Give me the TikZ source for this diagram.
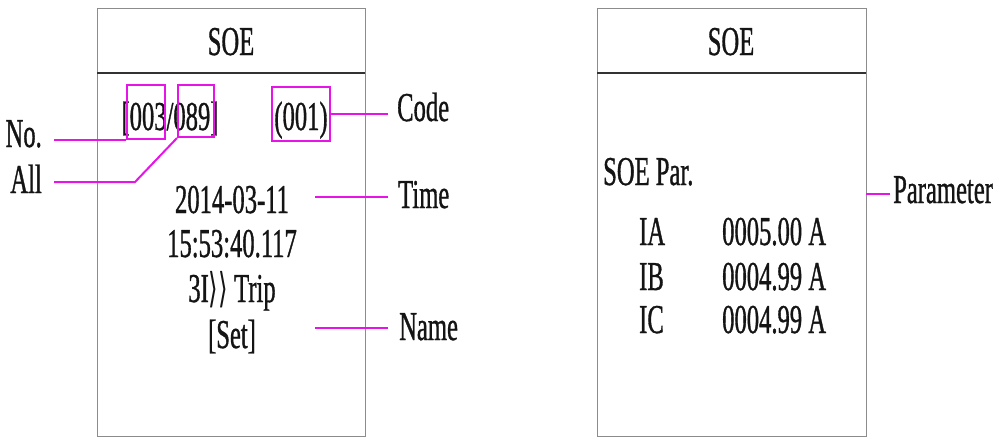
\documentclass[tikz,border=0pt]{standalone}
\usepackage{fontspec}
\setmainfont[FakeStretch=0.6,FakeBold=0.8]{Liberation Serif}
\newfontfamily\symf[FakeStretch=0.6]{DejaVu Sans}
\definecolor{pinkline}{RGB}{230,20,230}
\definecolor{framegray}{RGB}{140,140,140}
\definecolor{headgray}{RGB}{50,50,50}
\definecolor{txt}{RGB}{20,20,20}
\begin{document}
\begin{tikzpicture}[x=1pt,y=-1pt,
  screen/.style={draw=framegray,line width=1.4pt,inner sep=0,anchor=north west},
  headline/.style={draw=headgray,line width=2pt},
  disp/.style={inner sep=0,text=txt,font=\fontsize{41}{41}\selectfont},
  lbl/.style={inner ysep=0,text=txt,font=\fontsize{41}{41}\selectfont},
  pinkmark/.style={draw=pinkline,line width=2pt,inner sep=0},
  lead/.style={draw=pinkline,line width=2pt}]
\useasboundingbox (0,0) rectangle (1003,437);
% screens
\node[screen,minimum width=268pt,minimum height=428pt] (lscr) at (97,8) {};
\node[screen,minimum width=269pt,minimum height=428pt] (rscr) at (597,8) {};
\coordinate (lh1) at (97,73); \coordinate (lh2) at (365,73);
\coordinate (rh1) at (597,73); \coordinate (rh2) at (866,73);
\draw[headline] (lh1) -- (lh2);
\draw[headline] (rh1) -- (rh2);
% left screen text
\node[disp,anchor=base] (lhead) at (231,55) {SOE};
\node[disp,anchor=base] (index) at (170,130) {[003/089]};
\node[disp,anchor=base] (code) at (301,130) {(001)};
\node[disp,anchor=base] (date) at (232,213) {2014-03-11};
\node[disp,anchor=base] (clock) at (232,257) {15:53:40.117};
\node[disp,anchor=base] (trip) at (232,302) {3I{\symf ⟩⟩} Trip};
\node[disp,anchor=base] (set) at (232,348) {[Set]};
% pink marks
\node[pinkmark,anchor=north west,minimum width=38pt,minimum height=54pt] (nobox) at (126,84) {};
\node[pinkmark,anchor=north west,minimum width=36pt,minimum height=52pt] (allbox) at (177,84) {};
\node[pinkmark,anchor=north west,minimum width=58pt,minimum height=54pt] (codebox) at (271,86) {};
% labels
\node[lbl,inner xsep=9pt,anchor=base west] (codelbl) at (388,121) {Code};
\node[lbl,inner xsep=12pt,anchor=base east] (nolbl) at (54,147) {No.};
\node[lbl,inner xsep=12pt,anchor=base east] (alllbl) at (54,193) {All};
\node[lbl,inner xsep=10pt,anchor=base west] (timelbl) at (388,208) {Time};
\node[lbl,inner xsep=11pt,anchor=base west] (namelbl) at (388,340) {Name};
% connectors
\coordinate (tstart) at (315,197);
\coordinate (nstart) at (315,328);
\coordinate (allbend) at (135,182);
\draw[lead] (codebox.east) -- (codebox.east -| codelbl.west);
\draw[lead] (nobox.south west) -- (nobox.south west -| nolbl.east);
\draw[lead] (allbox.south west) -- (allbend) -- (allbend -| alllbl.east);
\draw[lead] (tstart) -- (tstart -| timelbl.west);
\draw[lead] (nstart) -- (nstart -| namelbl.west);
% right screen text
\node[disp,anchor=base] (rhead) at (731,55) {SOE};
\node[disp,anchor=base west] (par) at (603,185) {SOE Par.};
\node[disp,anchor=base west] (ia) at (639,245) {IA};
\node[disp,anchor=base west] (ib) at (639,290) {IB};
\node[disp,anchor=base west] (ic) at (639,333) {IC};
\node[disp,anchor=base west] (iav) at (722,245) {0005.00 A};
\node[disp,anchor=base west] (ibv) at (722,290) {0004.99 A};
\node[disp,anchor=base west] (icv) at (722,333) {0004.99 A};
\node[lbl,inner xsep=3pt,anchor=base west] (paramlbl) at (890,203) {Parameter};
\coordinate (pstart) at (866,194);
\draw[lead] (pstart) -- (pstart -| paramlbl.west);
\end{tikzpicture}
\end{document}
